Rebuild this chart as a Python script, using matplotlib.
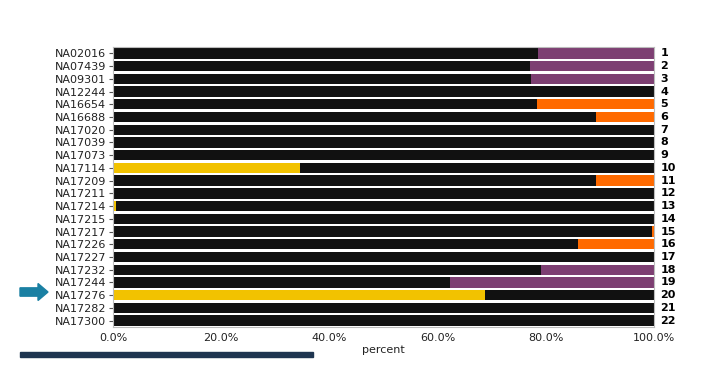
import matplotlib
matplotlib.use('Agg')
import matplotlib.pyplot as plt
from matplotlib.patches import FancyArrow, Rectangle
from matplotlib.ticker import PercentFormatter
import numpy as np

samples = ["NA02016", "NA07439", "NA09301", "NA12244", "NA16654", "NA16688",
           "NA17020", "NA17039", "NA17073", "NA17114", "NA17209", "NA17211",
           "NA17214", "NA17215", "NA17217", "NA17226", "NA17227", "NA17232",
           "NA17244", "NA17276", "NA17282", "NA17300"]
row_numbers = [str(i) for i in range(1, 23)]

# percentage of each component per sample
yellow = [0, 0, 0, 0, 0, 0, 0, 0, 0, 34.6, 0, 0, 0.5, 0, 0, 0, 0, 0, 0, 68.8, 0, 0]
black = [78.6, 77.1, 77.3, 100, 78.4, 89.3, 100, 100, 100, 65.4, 89.3, 100,
         99.5, 100, 99.6, 86.0, 100, 79.1, 62.3, 31.2, 100, 100]
purple = [21.4, 22.9, 22.7, 0, 0, 0, 0, 0, 0, 0, 0, 0, 0, 0, 0, 0, 0, 20.9, 37.7, 0, 0, 0]
orange = [0, 0, 0, 0, 21.6, 10.7, 0, 0, 0, 0, 10.7, 0, 0, 0, 0.4, 14.0, 0, 0, 0, 0, 0, 0]

colors = ["#f2c200", "#111111", "#7d3f72", "#ff6a00"]

fig = plt.figure(figsize=(7.27, 3.78), dpi=100)
ax = fig.add_axes([0.1554, 0.1349, 0.7442, 0.7408])

y = np.arange(len(samples))
left = np.zeros(len(samples))
for vals, c in zip([yellow, black, purple, orange], colors):
    ax.barh(y, vals, left=left, height=0.82, color=c, edgecolor="none", zorder=2)
    left += np.array(vals)

ax.set_xlim(0, 100)
ax.set_ylim(len(samples) - 0.5, -0.5)
ax.set_yticks(y)
ax.set_yticklabels(samples, fontsize=8, color="#222222")
ax.set_xticks([0, 20, 40, 60, 80, 100])
ax.xaxis.set_major_formatter(PercentFormatter(decimals=1))
ax.tick_params(axis='x', labelsize=8, length=0, pad=4, colors="#222222")
ax.tick_params(axis='y', length=3, pad=2, color="#555555")
ax.set_xlabel("percent", fontsize=8, labelpad=2, color="#222222")
ax.grid(axis='x', color="#ffffff", alpha=0.08, linewidth=1, zorder=3)
for s in ax.spines.values():
    s.set_color("#bbbbbb")
    s.set_linewidth(0.8)

for yi, n in zip(y, row_numbers):
    ax.text(1.012, yi, n, transform=ax.get_yaxis_transform(), fontsize=8,
            fontweight="bold", va="center", ha="left", color="#000000")

# arrow pointing at sample 20
fig.patches.append(FancyArrow(20 / 727, 1 - 292 / 378, 18 / 727, 0, width=0.022,
                              head_width=0.045, head_length=10 / 727,
                              length_includes_head=False, color="#1a80a3",
                              transform=fig.transFigure, figure=fig))
# dark strip at bottom
fig.patches.append(Rectangle((20 / 727, 1 - 357 / 378), 293 / 727, 5 / 378,
                             color="#1e3550", transform=fig.transFigure, figure=fig))

fig.savefig("out.png", dpi=100)
